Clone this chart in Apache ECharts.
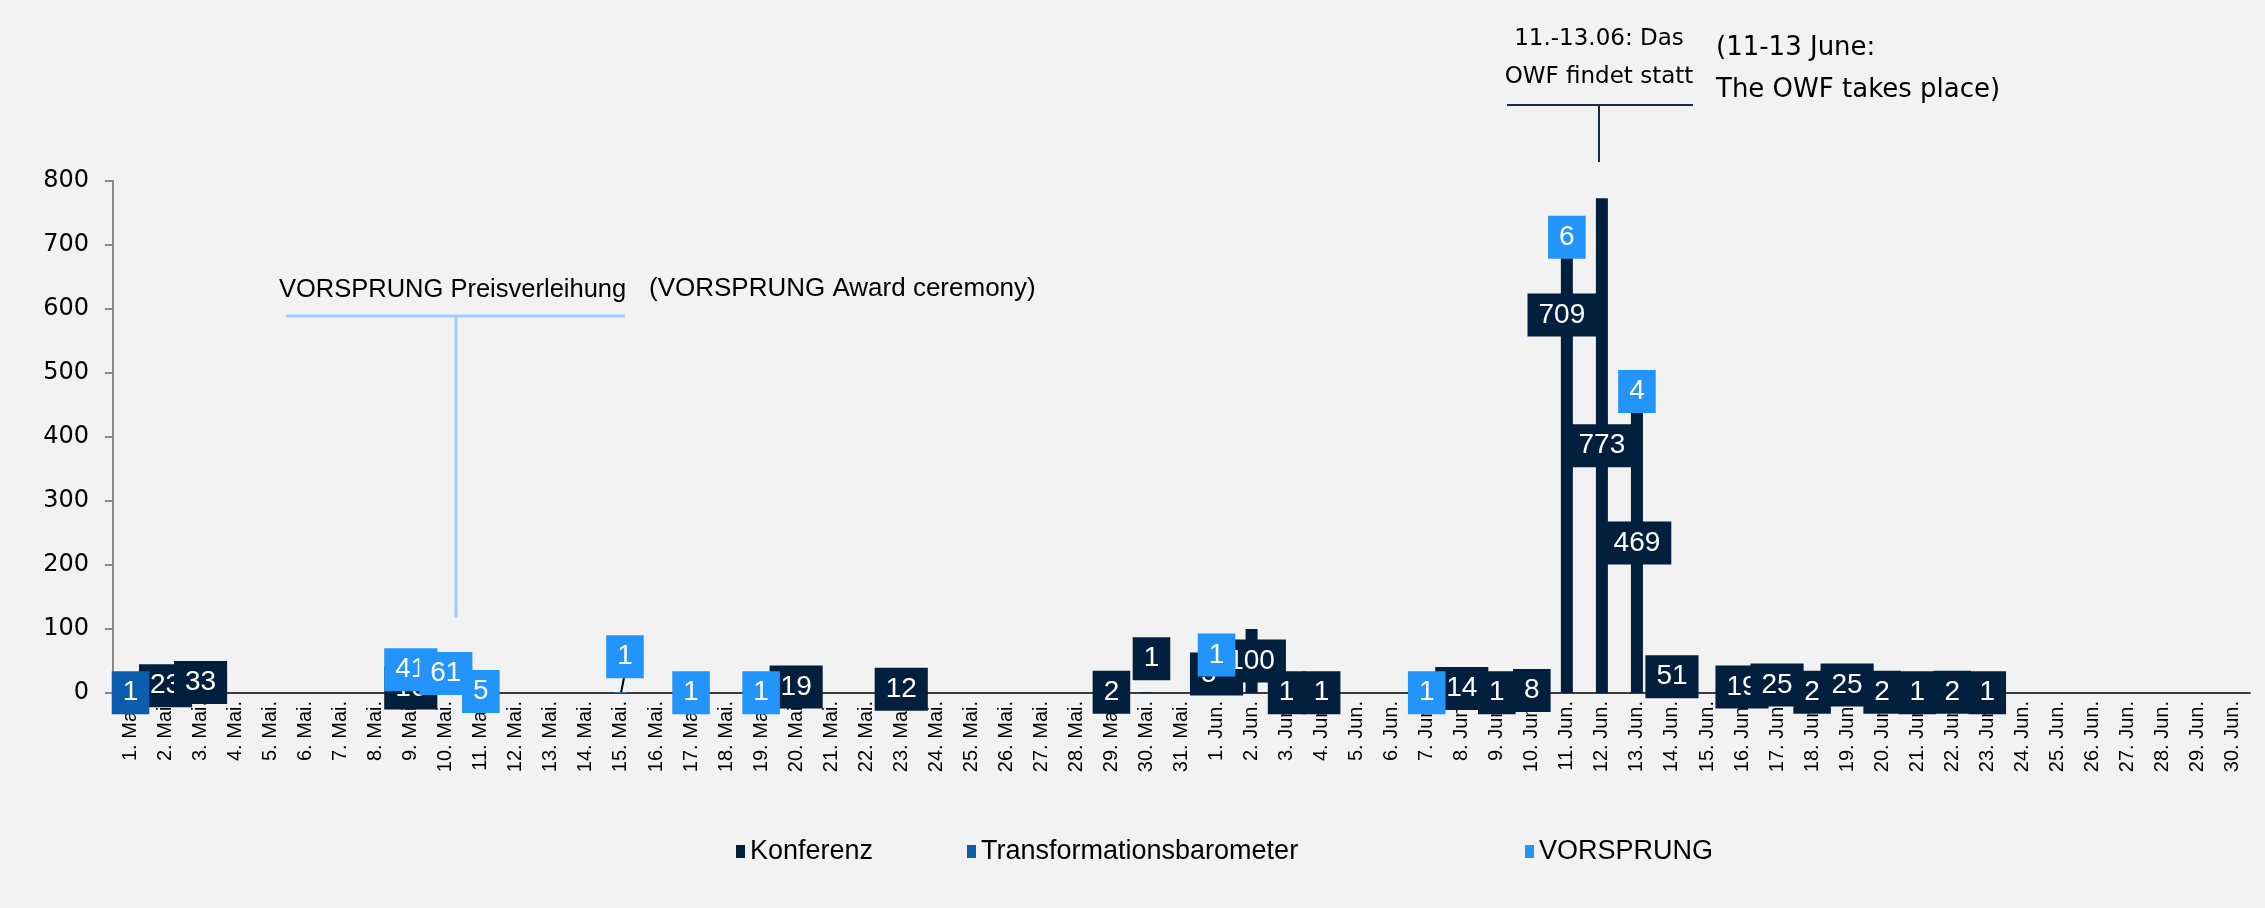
<!DOCTYPE html>
<html>
<head>
<meta charset="utf-8">
<script src="https://cdn.jsdelivr.net/npm/echarts@6/dist/echarts.min.js"></script>
<style>
  html, body { margin: 0; padding: 0; background: #f2f2f2; }
  #chart { width: 2265px; height: 908px; }
</style>
</head>
<body>
<div id="chart"></div>
<script>
const categories = [
  '1. Mai.','2. Mai.','3. Mai.','4. Mai.','5. Mai.','6. Mai.','7. Mai.','8. Mai.','9. Mai.','10. Mai.',
  '11. Mai.','12. Mai.','13. Mai.','14. Mai.','15. Mai.','16. Mai.','17. Mai.','18. Mai.','19. Mai.','20. Mai.',
  '21. Mai.','22. Mai.','23. Mai.','24. Mai.','25. Mai.','26. Mai.','27. Mai.','28. Mai.','29. Mai.','30. Mai.',
  '31. Mai.',
  '1. Jun.','2. Jun.','3. Jun.','4. Jun.','5. Jun.','6. Jun.','7. Jun.','8. Jun.','9. Jun.','10. Jun.',
  '11. Jun.','12. Jun.','13. Jun.','14. Jun.','15. Jun.','16. Jun.','17. Jun.','18. Jun.','19. Jun.','20. Jun.',
  '21. Jun.','22. Jun.','23. Jun.','24. Jun.','25. Jun.','26. Jun.','27. Jun.','28. Jun.','29. Jun.','30. Jun.'
];

// Mai 1..31, Jun 1..30
const konferenz = [
  null, 23, 33, null, null, null, null, null, 16, null,
  null, null, null, null, null, null, null, null, null, 19,
  null, null, 12, null, null, null, null, null, 2, 1,
  null,
  59, 100, 1, 1, null, null, null, 14, 1, 8,
  709, 773, 469, 51, null, 19, 25, 2, 25, 2,
  1, 2, 1, null, null, null, null, null, null, null
];
const transformationsbarometer = [
  1, null, null, null, null, null, null, null, null, null,
  null, null, null, null, null, null, null, null, null, null,
  null, null, null, null, null, null, null, null, null, null,
  null,
  null, null, null, null, null, null, null, null, null, null,
  null, null, null, null, null, null, null, null, null, null,
  null, null, null, null, null, null, null, null, null, null
];
const vorsprung = [
  null, null, null, null, null, null, null, null, 41, 61,
  5, null, null, null, 1, null, 1, null, 1, null,
  null, null, null, null, null, null, null, null, null, null,
  null,
  1, null, null, null, null, null, 1, null, null, null,
  6, null, 4, null, null, null, null, null, null, null,
  null, null, null, null, null, null, null, null, null, null
];
const yTicks = { min: 0, max: 800, interval: 100 };

const seriesNames = ['Konferenz', 'Transformationsbarometer', 'VORSPRUNG'];
const seriesColors = ['#02203e', '#0a5cac', '#2394fa'];
const seriesValues = [konferenz, transformationsbarometer, vorsprung];

// labels that were moved by hand in the original
const labelOffsets = {
  'Konferenz|11. Jun.': [-5, -151],
  'Konferenz|30. Mai.': [5, -34],
  'VORSPRUNG|15. Mai.': [4, -36]
};

function buildData(name, values) {
  return values.map((v, i) => {
    const key = name + '|' + categories[i];
    if (v != null && labelOffsets[key]) {
      return { value: v, label: { offset: labelOffsets[key] } };
    }
    return v == null ? '-' : v;
  });
}

const series = seriesNames.map((name, k) => ({
  name: name,
  type: 'bar',
  stack: 'total',
  barWidth: 12,
  itemStyle: { color: seriesColors[k] },
  data: buildData(name, seriesValues[k]),
  label: {
    show: true,
    position: 'inside',
    color: '#ffffff',
    fontFamily: 'Liberation Sans, Arial, sans-serif',
    fontSize: 28,
    lineHeight: 28,
    backgroundColor: seriesColors[k],
    padding: [8, 11, 7, 11],
    formatter: p => (p.value == null || p.value === '-') ? '' : String(p.value)
  },
  emphasis: { disabled: true }
}));

function legendFor(name, left) {
  return {
    data: [name],
    left: left,
    top: 838,
    padding: 0,
    itemWidth: 9,
    itemHeight: 13,
    itemGap: 0,
    icon: 'rect',
    textStyle: { fontFamily: 'Liberation Sans, Arial, sans-serif', fontSize: 27, color: '#000' }
  };
}

const chart = echarts.init(document.getElementById('chart'), null, { renderer: 'canvas' });
const baseGraphic = [
  { type: 'text', left: 279, top: 277, style: { text: 'VORSPRUNG Preisverleihung', font: '25.5px "Liberation Sans", Arial, sans-serif', fill: '#000' } },
  { type: 'text', left: 649, top: 276, style: { text: '(VORSPRUNG Award ceremony)', font: '26px "Liberation Sans", Arial, sans-serif', fill: '#000' } },
  { type: 'line', shape: { x1: 286, y1: 316, x2: 625, y2: 316 }, style: { stroke: '#9ecfff', lineWidth: 3 } },
  { type: 'line', shape: { x1: 456, y1: 316, x2: 456, y2: 618 }, style: { stroke: '#9ecfff', lineWidth: 3 } },

  { type: 'text', x: 1599, y: 39, style: { text: '11.-13.06: Das', font: '23px "DejaVu Sans", sans-serif', fill: '#000', align: 'center', verticalAlign: 'middle' } },
  { type: 'text', x: 1599, y: 77, style: { text: 'OWF findet statt', font: '23px "DejaVu Sans", sans-serif', fill: '#000', align: 'center', verticalAlign: 'middle' } },
  { type: 'line', shape: { x1: 1507, y1: 105, x2: 1693, y2: 105 }, style: { stroke: '#1c2c44', lineWidth: 2 } },
  { type: 'line', shape: { x1: 1599, y1: 105, x2: 1599, y2: 162 }, style: { stroke: '#1c2c44', lineWidth: 2 } },
  { type: 'text', x: 1716, y: 48, style: { text: '(11-13 June:', font: '26px "DejaVu Sans", sans-serif', fill: '#000', align: 'left', verticalAlign: 'middle' } },
  { type: 'text', x: 1716, y: 90, style: { text: 'The OWF takes place)', font: '26px "DejaVu Sans", sans-serif', fill: '#000', align: 'left', verticalAlign: 'middle' } }
];

chart.setOption({
  backgroundColor: '#f2f2f2',
  animation: false,
  grid: { left: 113, right: 15, top: 181, bottom: 215, containLabel: false },
  legend: [
    legendFor('Konferenz', 736),
    legendFor('Transformationsbarometer', 967),
    legendFor('VORSPRUNG', 1525)
  ],
  xAxis: {
    type: 'category',
    data: categories,
    axisLine: { show: true, lineStyle: { color: '#000', width: 1.5 } },
    axisTick: { show: false },
    axisLabel: {
      interval: 0,
      rotate: 90,
      margin: 8,
      fontFamily: 'Liberation Sans, Arial, sans-serif',
      fontSize: 20,
      color: '#000'
    }
  },
  yAxis: {
    type: 'value',
    min: yTicks.min,
    max: yTicks.max,
    interval: yTicks.interval,
    splitLine: { show: false },
    axisLine: { show: true, lineStyle: { color: '#8a8a8a', width: 2 } },
    axisTick: { show: true, inside: false, length: 8, lineStyle: { color: '#8a8a8a', width: 2 } },
    axisLabel: {
      margin: 24,
      fontFamily: 'DejaVu Sans, sans-serif',
      fontSize: 24,
      color: '#000'
    }
  },
  graphic: baseGraphic,
  series: series
});

// short leader line for the moved VORSPRUNG label on 15. Mai.
const leaderBase = chart.convertToPixel({ xAxisIndex: 0, yAxisIndex: 0 }, ['15. Mai.', 0]);
baseGraphic.push({
  type: 'line',
  shape: { x1: leaderBase[0] + 3, y1: leaderBase[1] - 15, x2: leaderBase[0], y2: leaderBase[1] },
  style: { stroke: '#000', lineWidth: 2 }
});
chart.setOption({ graphic: baseGraphic });
</script>
</body>
</html>
